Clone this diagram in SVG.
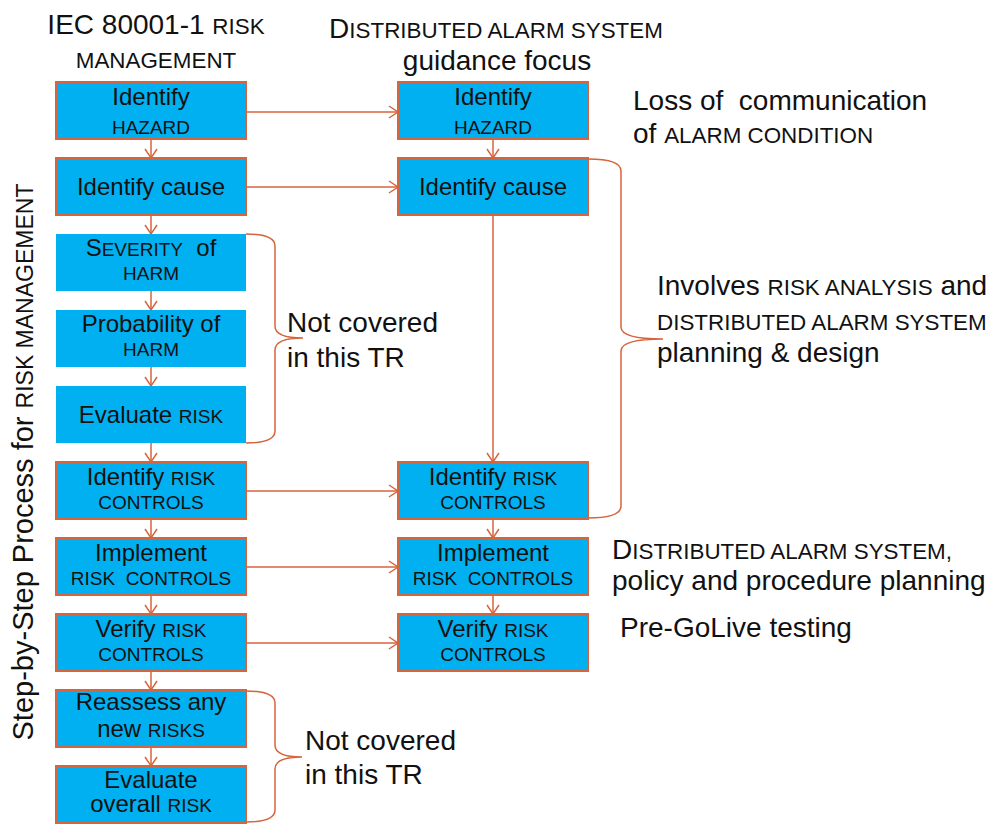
<svg xmlns="http://www.w3.org/2000/svg" width="997" height="835" viewBox="0 0 997 835">
<defs>
<style>
text{font-family:"Liberation Sans",Arial,sans-serif;fill:#111;}
.t{font-size:28px;}
.s{font-size:22.4px;}
.b{font-size:24px;text-anchor:middle;}
.bs{font-size:19px;}
.box{fill:#00B0F0;stroke:#D6643C;stroke-width:2;}
.nb{fill:#00B0F0;stroke:none;}
.ln{stroke:#D6643C;stroke-width:1.5;fill:none;}
</style>
<marker id="ah" markerUnits="userSpaceOnUse" markerWidth="14" markerHeight="14" refX="10" refY="7" orient="auto">
<path d="M1,1 L10,7 L1,13" fill="none" stroke="#D6643C" stroke-width="1.5"/>
</marker>
</defs>
<rect width="997" height="835" fill="#fff"/>

<g id="titles">
<text class="t" x="156" y="34" text-anchor="middle">IEC 80001-1 <tspan class="s">RISK</tspan></text>
<text class="s" x="156" y="68" text-anchor="middle">MANAGEMENT</text>
<text class="t" x="496" y="38" text-anchor="middle">D<tspan class="s">ISTRIBUTED ALARM SYSTEM</tspan></text>
<text class="t" x="497" y="70" text-anchor="middle">guidance focus</text>
<text class="t" transform="translate(33,462) rotate(-90)" text-anchor="middle" style="font-size:29px">Step-by-Step Process for <tspan style="font-size:23px">RISK MANAGEMENT</tspan></text>
</g>

<g id="connectors">
<line class="ln" x1="151" y1="139" x2="151" y2="158" marker-end="url(#ah)"/>
<line class="ln" x1="151" y1="215" x2="151" y2="234" marker-end="url(#ah)"/>
<line class="ln" x1="151" y1="291" x2="151" y2="310" marker-end="url(#ah)"/>
<line class="ln" x1="151" y1="367" x2="151" y2="386" marker-end="url(#ah)"/>
<line class="ln" x1="151" y1="443" x2="151" y2="462" marker-end="url(#ah)"/>
<line class="ln" x1="151" y1="519" x2="151" y2="538" marker-end="url(#ah)"/>
<line class="ln" x1="151" y1="595" x2="151" y2="614" marker-end="url(#ah)"/>
<line class="ln" x1="151" y1="671" x2="151" y2="690" marker-end="url(#ah)"/>
<line class="ln" x1="151" y1="747" x2="151" y2="766" marker-end="url(#ah)"/>
<line class="ln" x1="493" y1="139" x2="493" y2="158" marker-end="url(#ah)"/>
<line class="ln" x1="493" y1="215" x2="493" y2="462" marker-end="url(#ah)"/>
<line class="ln" x1="493" y1="519" x2="493" y2="538" marker-end="url(#ah)"/>
<line class="ln" x1="493" y1="595" x2="493" y2="614" marker-end="url(#ah)"/>
<line class="ln" x1="246" y1="112" x2="398" y2="112" marker-end="url(#ah)"/>
<line class="ln" x1="246" y1="187" x2="398" y2="187" marker-end="url(#ah)"/>
<line class="ln" x1="246" y1="491" x2="398" y2="491" marker-end="url(#ah)"/>
<line class="ln" x1="246" y1="567" x2="398" y2="567" marker-end="url(#ah)"/>
<line class="ln" x1="246" y1="643" x2="398" y2="643" marker-end="url(#ah)"/>
</g>

<g id="braces">
<path class="ln" d="M246,234 Q275,234 275,246 L275,326 Q275,338 303,338 Q275,338 275,350 L275,431 Q275,443 246,443"/>
<path class="ln" d="M588,159 Q621,159 621,171 L621,327 Q621,339 663,339 Q621,339 621,351 L621,506 Q621,518 588,518"/>
<path class="ln" d="M246,691 Q275,691 275,703 L275,745 Q275,757 302,757 Q275,757 275,769 L275,810 Q275,822 246,822"/>
</g>

<g id="L1"><rect class="box" x="56" y="82" width="190" height="57"/><text class="b" x="151" y="105">Identify</text><text class="b bs" x="151" y="134">HAZARD</text></g>
<g id="L2"><rect class="box" x="56" y="158" width="190" height="57"/><text class="b" x="151" y="195">Identify cause</text></g>
<g id="L3"><rect class="nb" x="56" y="234" width="190" height="57"/><text class="b" x="151" y="256" xml:space="preserve">S<tspan class="bs">EVERITY</tspan>  of</text><text class="b bs" x="151" y="280">HARM</text></g>
<g id="L4"><rect class="nb" x="56" y="310" width="190" height="57"/><text class="b" x="151" y="332">Probability of</text><text class="b bs" x="151" y="356">HARM</text></g>
<g id="L5"><rect class="nb" x="56" y="386" width="190" height="57"/><text class="b" x="151" y="423">Evaluate <tspan class="bs">RISK</tspan></text></g>
<g id="L6"><rect class="box" x="56" y="462" width="190" height="57"/><text class="b" x="151" y="485">Identify <tspan class="bs">RISK</tspan></text><text class="b bs" x="151" y="509">CONTROLS</text></g>
<g id="L7"><rect class="box" x="56" y="538" width="190" height="57"/><text class="b" x="151" y="561">Implement</text><text class="b bs" x="151" y="585" xml:space="preserve">RISK  CONTROLS</text></g>
<g id="L8"><rect class="box" x="56" y="614" width="190" height="57"/><text class="b" x="151" y="637">Verify <tspan class="bs">RISK</tspan></text><text class="b bs" x="151" y="661">CONTROLS</text></g>
<g id="L9"><rect class="box" x="56" y="690" width="190" height="57"/><text class="b" x="151" y="710">Reassess any</text><text class="b" x="151" y="737">new <tspan class="bs">RISKS</tspan></text></g>
<g id="L10"><rect class="box" x="56" y="766" width="190" height="57"/><text class="b" x="151" y="788">Evaluate</text><text class="b" x="151" y="812">overall <tspan class="bs">RISK</tspan></text></g>

<g id="R1"><rect class="box" x="398" y="82" width="190" height="57"/><text class="b" x="493" y="105">Identify</text><text class="b bs" x="493" y="134">HAZARD</text></g>
<g id="R2"><rect class="box" x="398" y="158" width="190" height="57"/><text class="b" x="493" y="195">Identify cause</text></g>
<g id="R6"><rect class="box" x="398" y="462" width="190" height="57"/><text class="b" x="493" y="485">Identify <tspan class="bs">RISK</tspan></text><text class="b bs" x="493" y="509">CONTROLS</text></g>
<g id="R7"><rect class="box" x="398" y="538" width="190" height="57"/><text class="b" x="493" y="561">Implement</text><text class="b bs" x="493" y="585" xml:space="preserve">RISK  CONTROLS</text></g>
<g id="R8"><rect class="box" x="398" y="614" width="190" height="57"/><text class="b" x="493" y="637">Verify <tspan class="bs">RISK</tspan></text><text class="b bs" x="493" y="661">CONTROLS</text></g>

<g id="notes">
<text class="t" x="633" y="110" xml:space="preserve">Loss of  communication</text>
<text class="t" x="633" y="143">of <tspan class="s">ALARM CONDITION</tspan></text>
<text class="t" x="287" y="332">Not covered</text>
<text class="t" x="287" y="367">in this TR</text>
<text class="t" x="657" y="295">Involves <tspan class="s">RISK ANALYSIS</tspan> and</text>
<text class="s" x="657" y="330">DISTRIBUTED ALARM SYSTEM</text>
<text class="t" x="657" y="362">planning &amp; design</text>
<text class="t" x="612" y="559">D<tspan class="s">ISTRIBUTED ALARM SYSTEM,</tspan></text>
<text class="t" x="612" y="590">policy and procedure planning</text>
<text class="t" x="620" y="637">Pre-GoLive testing</text>
<text class="t" x="305" y="750">Not covered</text>
<text class="t" x="305" y="784">in this TR</text>
</g>
</svg>
